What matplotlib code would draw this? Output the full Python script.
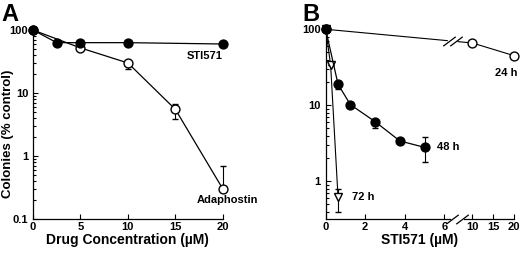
import numpy as np
import matplotlib
matplotlib.use("Agg")
import matplotlib.pyplot as plt
from matplotlib.ticker import FixedLocator, FuncFormatter, LogLocator, NullFormatter

plt.rcParams["font.family"] = ["Liberation Sans", "DejaVu Sans"]
plt.rcParams["font.weight"] = "bold"
plt.rcParams["axes.labelweight"] = "bold"

# ---- Panel A data ----
sti_x = [0, 2.5, 5, 10, 20]
sti_y = [100, 63, 63, 63, 60]
ada_x = [0, 5, 10, 15, 20]
ada_y = [100, 52, 30, 5.5, 0.3]
ada_err_lo = [0, 0, 6, 1.6, 0]
ada_err_hi = [0, 0, 0, 1.2, 0.4]

# ---- Panel B data (STI571 time course) ----
h24_x = [0, 10, 20]
h24_y = [100, 66, 45]
h48_x = [0, 0.625, 1.25, 2.5, 3.75, 5]
h48_y = [100, 18.9, 10.2, 6.1, 3.4, 2.8]
h48_err_lo = [0, 2.6, 0, 1.0, 0, 1.0]
h48_err_hi = [0, 0, 0, 0, 0, 1.0]
h72_x = [0, 0.25, 0.625]
h72_y = [100, 34, 0.62]
h72_err_lo = [0, 0, 0.22]
h72_err_hi = [0, 0, 0.17]

b_ticks = [0, 2, 4, 6, 10, 15, 20]

# broken x axis: linear 0-6.6, compressed 10-20
knots_in = [-10, 0, 6.6, 10, 20, 40]
knots_out = [-10, 0, 6.6, 7.42, 9.52, 13.72]


def fwd(x):
    return np.interp(x, knots_in, knots_out)


def inv(u):
    return np.interp(u, knots_out, knots_in)


LW = 0.9
MS = 6.4
fmt = FuncFormatter(lambda v, p: f"{v:g}")


def style_axes(ax):
    for s in ("top", "right"):
        ax.spines[s].set_visible(False)
    for s in ("left", "bottom"):
        ax.spines[s].set_linewidth(0.9)
    ax.tick_params(which="both", direction="in", labelsize=8, width=0.8)
    ax.tick_params(which="major", length=3.5, pad=2)
    ax.tick_params(axis="y", which="major", pad=3.5)
    ax.tick_params(which="minor", length=1.8)
    ax.yaxis.set_major_formatter(fmt)
    ax.yaxis.set_minor_formatter(NullFormatter())
    ax.yaxis.set_minor_locator(LogLocator(base=10, subs=np.arange(2, 10)))


fig = plt.figure(figsize=(5.2, 2.54), dpi=100)

# ---------------- Panel A ----------------
axA = fig.add_axes([0.0635, 0.1378, 0.365, 0.744])
axA.set_yscale("log")
axA.set_xlim(0, 20)
axA.set_ylim(0.1, 100)
style_axes(axA)
axA.xaxis.set_major_locator(FixedLocator([0, 5, 10, 15, 20]))

axA.errorbar(ada_x, ada_y, yerr=[ada_err_lo, ada_err_hi], fmt="o-", color="k",
             mfc="white", mec="k", ms=MS, lw=LW, elinewidth=0.8, capsize=2,
             clip_on=False, zorder=3)
axA.plot(sti_x, sti_y, "o-", color="k", ms=MS, lw=LW, clip_on=False, zorder=4)

axA.text(18.1, 39, "STI571", fontsize=8, ha="center", va="center")
axA.text(20.5, 0.2, "Adaphostin", fontsize=8, ha="center", va="center")
axA.set_xlabel("Drug Concentration (\u00b5M)", fontsize=10, labelpad=1)
axA.set_ylabel("Colonies (% control)", fontsize=9.5)
axA.yaxis.set_label_coords(-0.1, 0.45)
fig.text(0.003, 0.99, "A", fontsize=17, ha="left", va="top")

# ---------------- Panel B ----------------
axB = fig.add_axes([0.6263, 0.1378, 0.362, 0.747])
axB.set_xscale("function", functions=(fwd, inv))
axB.set_yscale("log")
axB.set_xlim(0, 20)
axB.set_ylim(0.32, 100)
style_axes(axB)
axB.xaxis.set_major_locator(FixedLocator(b_ticks))
axB.xaxis.set_major_formatter(fmt)
axB.xaxis.set_minor_locator(FixedLocator([]))

axB.plot(h24_x, h24_y, "o-", color="k", mfc="white", mec="k", ms=MS,
         lw=0.8, clip_on=False, zorder=3)
axB.errorbar(h72_x, h72_y, yerr=[h72_err_lo, h72_err_hi], fmt="v-", color="k",
             mfc="white", mec="k", ms=MS, lw=0.8, elinewidth=0.8, capsize=2,
             clip_on=False, zorder=3)
axB.errorbar(h48_x, h48_y, yerr=[h48_err_lo, h48_err_hi], fmt="o-", color="k",
             ms=MS, lw=LW, elinewidth=0.8, capsize=2, clip_on=False, zorder=4)

# break marks on the x axis
slash = [(-1, -0.75), (1, 0.75)]
axB.plot([0.673, 0.726], [0.0, 0.0], transform=axB.transAxes, color="white",
         lw=2, clip_on=False, zorder=5)
axB.plot([0.673, 0.726], [0.0, 0.0], transform=axB.transAxes, ls="none",
         marker=slash, ms=9, mec="k", mew=0.9, clip_on=False, zorder=6)

# break marks on the 24 h line
u_end = fwd(h24_x[1])
ub = np.array([6.25, 6.6])
xb = inv(ub)
logy0 = np.log10(h24_y[0])
slope = (np.log10(h24_y[1]) - logy0) / u_end
yb = 10 ** (logy0 + ub * slope)
ug = np.linspace(ub[0], ub[1], 5)
axB.plot(inv(ug), 10 ** (logy0 + ug * slope), color="white", lw=2, zorder=5)
axB.plot(xb, yb, ls="none", marker=slash, ms=9, mec="k", mew=0.9, zorder=6)

axB.text(18.2, 27, "24 h", fontsize=8, ha="center", va="center")
axB.text(6.2, 2.8, "48 h", fontsize=8, ha="center", va="center")
axB.text(1.9, 0.63, "72 h", fontsize=8, ha="center", va="center")
axB.set_xlabel("STI571 (\u00b5M)", fontsize=10, labelpad=1)
fig.text(0.581, 0.99, "B", fontsize=17, ha="left", va="top")

fig.savefig("out.png", dpi=100)
